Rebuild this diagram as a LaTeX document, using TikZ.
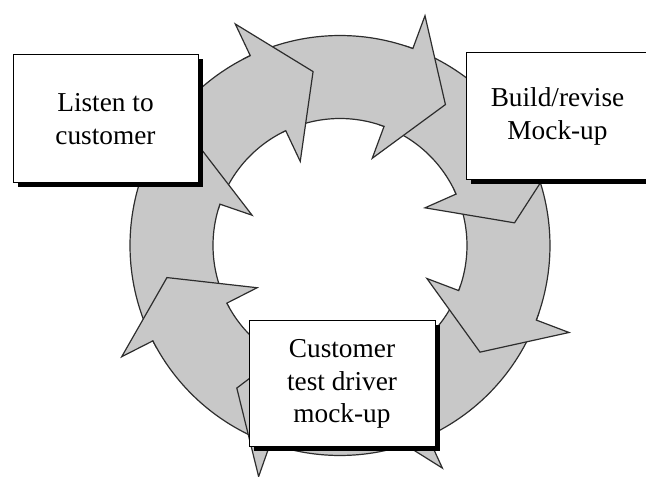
\documentclass[tikz,border=0pt]{standalone}
\usepackage{fontspec}
\setmainfont{Liberation Serif}
\usetikzlibrary{shadows}
\definecolor{ringfill}{RGB}{200,200,200}
\definecolor{ringline}{RGB}{45,45,45}
\tikzset{
  ringarrow/.style={fill=ringfill, draw=ringline, line width=1.2pt, line join=miter},
  stagebox/.style={draw=black, line width=1pt, fill=white, align=center,
    inner sep=0pt, font=\fontsize{27.3}{32.5}\selectfont,
    drop shadow={opacity=1, fill=black, shadow xshift=5pt, shadow yshift=-4pt}},
}
% one block arrow of the cycle: #1 = tail angle, #2 = angle of the head base
\newcommand\ringarrow[2]{%
  \draw[ringarrow] (#1:210) arc[start angle=#1, end angle=#2, radius=210]
    -- (#2:245) -- ({#2-16.5}:176) -- (#2:93) -- (#2:127)
    arc[start angle=#2, end angle=#1, radius=127] -- cycle;}
\begin{document}
\begin{tikzpicture}[x=1pt, y=1pt]
  \useasboundingbox (0,0) rectangle (646,477);
  \clip (0,0) rectangle (646,477);
  % ring of eight clockwise arrows, each lying over the next one
  \begin{scope}[shift={(340,231.5)}]
    \ringarrow{-18.8}{-65.3}
    \ringarrow{25.9}{-20.8}
    \ringarrow{71.7}{23.9}
    \ringarrow{117.3}{69.7}
    \ringarrow{163}{115.3}
    \ringarrow{209}{161}
    \ringarrow{252.6}{207}
    \ringarrow{-65.3}{-109.4}
  \end{scope}
  % the three stages
  \node[stagebox, minimum width=185pt, minimum height=128pt] (listen)
    at (105.5,358) {Listen to\\customer};
  \node[stagebox, minimum width=183pt, minimum height=127pt] (build)
    at (557.5,360.5) {Build/revise\\Mock-up};
  \node[stagebox, minimum width=186pt, minimum height=126pt] (test)
    at (342,93) {Customer\\test driver\\mock-up};
\end{tikzpicture}
\end{document}
